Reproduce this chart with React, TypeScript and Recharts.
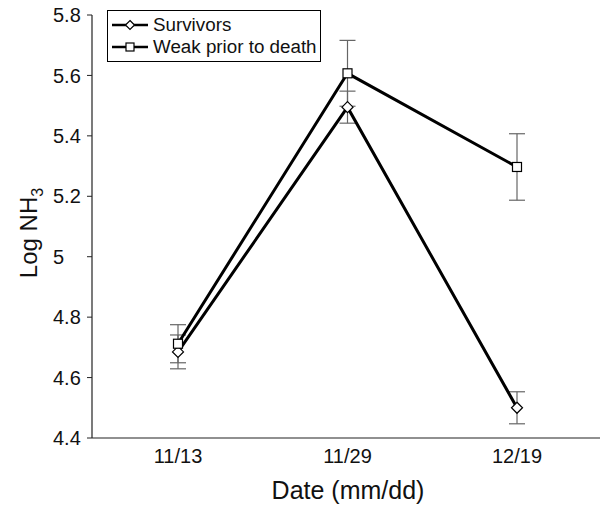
import React from 'react';
import { LineChart, Line, XAxis, YAxis, ErrorBar, Legend } from 'recharts';

const dates = ['11/13', '11/29', '12/19'];
const survivors = [4.685, 5.495, 4.5];
const survivorsErr = [0.056, 0.053, 0.053];
const weak = [4.712, 5.607, 5.297];
const weakErr = [0.063, 0.109, 0.11];
const yTicks = [4.4, 4.6, 4.8, 5, 5.2, 5.4, 5.6, 5.8];
const seriesNames = ['Survivors', 'Weak prior to death'];

const data = dates.map((d, i) => ({
  date: d,
  survivors: survivors[i],
  survivorsErr: survivorsErr[i],
  weak: weak[i],
  weakErr: weakErr[i],
}));

const FONT = '"Liberation Sans", Arial, Helvetica, sans-serif';

const Diamond = (props: any) => {
  const { cx, cy, index } = props;
  if (cx == null || cy == null) return <g key={`d${index}`} />;
  const r = 5.5;
  return (
    <path
      key={`d${index}`}
      d={`M${cx},${cy - r}L${cx + r},${cy}L${cx},${cy + r}L${cx - r},${cy}Z`}
      fill="#fff"
      stroke="#000"
      strokeWidth={1.2}
    />
  );
};

const Square = (props: any) => {
  const { cx, cy, index } = props;
  if (cx == null || cy == null) return <g key={`s${index}`} />;
  const r = 4.5;
  return (
    <rect
      key={`s${index}`}
      x={cx - r}
      y={cy - r}
      width={2 * r}
      height={2 * r}
      fill="#fff"
      stroke="#000"
      strokeWidth={1.2}
    />
  );
};

const YTick = (props: any) => {
  const { y, payload } = props;
  return (
    <text x={53} y={y} dy="0.36em" textAnchor="start" fontSize={20} fontFamily={FONT} fill="#111">
      {String(payload.value)}
    </text>
  );
};

const XTick = (props: any) => {
  const { x, payload } = props;
  return (
    <text x={x} y={463} textAnchor="middle" fontSize={20} fontFamily={FONT} fill="#111">
      {payload.value}
    </text>
  );
};

const LegendBox = () => (
  <div
    style={{
      border: '1.5px solid #000',
      background: '#fff',
      padding: '3px 3px 3px 3px',
      fontFamily: FONT,
      fontSize: 18.8,
      lineHeight: '22px',
      color: '#111',
      whiteSpace: 'nowrap',
    }}
  >
    {seriesNames.map((name, i) => (
      <div key={name} style={{ display: 'flex', alignItems: 'center', height: 22 }}>
        <svg width={38} height={22} style={{ marginRight: 4 }}>
          <line x1={1} y1={11} x2={37} y2={11} stroke="#000" strokeWidth={2.5} />
          {i === 0 ? (
            <path d="M19,6.5L23.5,11L19,15.5L14.5,11Z" fill="#fff" stroke="#000" strokeWidth={1.2} />
          ) : (
            <rect x={15} y={7} width={8} height={8} fill="#fff" stroke="#000" strokeWidth={1.2} />
          )}
        </svg>
        <span>{name}</span>
      </div>
    ))}
  </div>
);

const YLabel = () => (
  <text transform="translate(37,233) rotate(-90)" textAnchor="middle" fontSize={24} fontFamily={FONT} fill="#111">
    Log NH
    <tspan dy={6} fontSize={16}>3</tspan>
  </text>
);

const XLabel = () => (
  <text x={348} y={499} textAnchor="middle" fontSize={25} fontFamily={FONT} fill="#111">
    Date (mm/dd)
  </text>
);

export default function App() {
  return (
    <div style={{ position: 'absolute', left: 0, top: 0, width: 600, height: 506, background: '#fff' }}>
      <LineChart width={600} height={506} data={data} margin={{ top: 15, right: 0, bottom: 0, left: 0 }}>
        <XAxis
          dataKey="date"
          height={68}
          padding={{ left: 86, right: 83 }}
          tickLine={false}
          axisLine={{ stroke: '#222', strokeWidth: 1.2 }}
          tick={<XTick />}
          label={<XLabel />}
        />
        <YAxis
          width={92}
          domain={[4.4, 5.8]}
          ticks={yTicks}
          type="number"
          allowDataOverflow
          tickSize={5}
          tickLine={{ stroke: '#222' }}
          axisLine={{ stroke: '#222', strokeWidth: 1.2 }}
          tick={<YTick />}
          label={<YLabel />}
        />
        <Legend
          layout="horizontal"
          verticalAlign="middle"
          align="center"
          wrapperStyle={{ left: 107, top: 10, width: 'auto', height: 'auto' }}
          content={() => <LegendBox />}
        />
        <Line
          dataKey="survivors"
          stroke="#000"
          strokeWidth={3}
          dot={<Diamond />}
          activeDot={false}
          isAnimationActive={false}
        >
          <ErrorBar dataKey="survivorsErr" width={8} stroke="#666" strokeWidth={1.2} />
        </Line>
        <Line
          dataKey="weak"
          stroke="#000"
          strokeWidth={3}
          dot={<Square />}
          activeDot={false}
          isAnimationActive={false}
        >
          <ErrorBar dataKey="weakErr" width={8} stroke="#666" strokeWidth={1.2} />
        </Line>
      </LineChart>
    </div>
  );
}
